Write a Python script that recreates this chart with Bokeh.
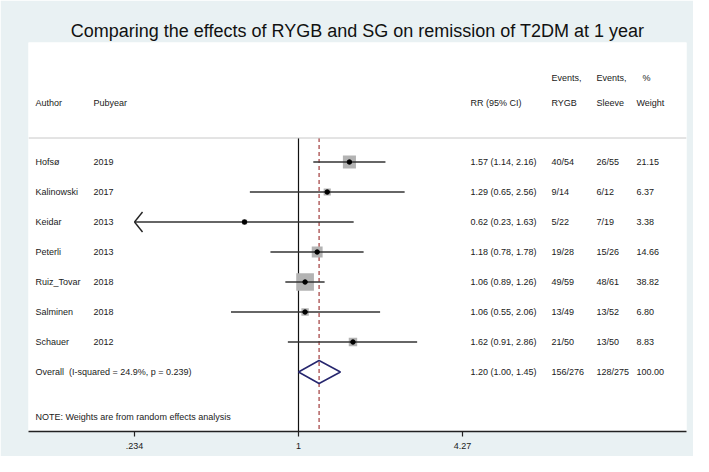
import numpy as np
from bokeh.plotting import figure
from bokeh.models import Range1d, FixedTicker, ColumnDataSource, Span
from bokeh.core.properties import value
from bokeh.embed import file_html
from bokeh.resources import INLINE

# ---------------- data ----------------
authors = ["Hofsø", "Kalinowski", "Keidar", "Peterli", "Ruiz_Tovar", "Salminen", "Schauer"]
pubyears = ["2019", "2017", "2013", "2013", "2018", "2018", "2012"]
rr = [1.57, 1.29, 0.62, 1.18, 1.06, 1.06, 1.62]
ci_low = [1.14, 0.65, 0.23, 0.78, 0.89, 0.55, 0.91]
ci_high = [2.16, 2.56, 1.63, 1.78, 1.26, 2.06, 2.86]
events_rygb = ["40/54", "9/14", "5/22", "19/28", "49/59", "13/49", "21/50"]
events_sleeve = ["26/55", "6/12", "7/19", "15/26", "48/61", "13/52", "13/50"]
weights = [21.15, 6.37, 3.38, 14.66, 38.82, 6.80, 8.83]

overall_rr = 1.20
overall_low = 1.00
overall_high = 1.45
overall_rygb = "156/276"
overall_sleeve = "128/275"
overall_weight = 100.00
i_squared = 24.9
p_het = 0.239

tick_values = [0.234, 1, 4.27]
tick_labels = [".234", "1", "4.27"]

title_text = "Comparing the effects of RYGB and SG on remission of T2DM at 1 year"
note_text = "NOTE: Weights are from random effects analysis"

# ---------------- layout helpers ----------------
FONT = "Liberation Sans"
BG = "#e9f1f3"
W, H = 693, 456
FRAME_L, FRAME_R, FRAME_T, FRAME_B = 28, 686, 42, 431
PX_PER_LN = 112.9          # pixels per natural-log unit
ONE_PX = 298.0             # x of RR = 1
ROW_PX = 30.0
ROW0_PX = 131.5            # y of row 0


def px2x(px):
    return float(np.exp((px - ONE_PX) / PX_PER_LN))


def py2r(py):
    return (py - ROW0_PX) / ROW_PX


x_start, x_end = px2x(FRAME_L), px2x(FRAME_R)
y_bottom, y_top = py2r(FRAME_B), py2r(FRAME_T)
axis_min = min(tick_values)

p = figure(width=W, height=H, output_backend="svg", toolbar_location=None,
           x_axis_type="log", x_range=Range1d(x_start, x_end),
           y_range=Range1d(y_bottom, y_top), y_axis_location=None,
           min_border_left=FRAME_L, min_border_right=W - FRAME_R,
           min_border_top=FRAME_T, min_border_bottom=H - FRAME_B)
p.border_fill_color = BG
p.background_fill_color = "white"
p.outline_line_color = None
p.grid.visible = False

# title
p.title.text = title_text
p.title.align = "center"
p.title.text_font = FONT
p.title.text_font_size = "18px"
p.title.text_font_style = "normal"
p.title.text_color = "#111111"
p.title.standoff = 4

# x axis
p.xaxis.ticker = FixedTicker(ticks=tick_values)
p.xaxis.major_label_overrides = {t: l for t, l in zip(tick_values, tick_labels)}
p.xaxis.minor_tick_line_color = None
p.xaxis.major_tick_in = 0
p.xaxis.major_tick_out = 5
p.xaxis.axis_line_width = 1.5
p.xaxis.axis_line_color = "#222222"
p.xaxis.major_tick_line_color = "#222222"
p.xaxis.major_tick_line_width = 1.2
p.xaxis.major_label_text_font = FONT
p.xaxis.major_label_text_font_size = "9px"
p.xaxis.major_label_text_color = "#1a1a1a"
p.xaxis.major_label_standoff = 6

n = len(authors)
rows = list(range(1, n + 1))
overall_row = n + 1
sep_row = py2r(137.5)

# header separator
p.add_layout(Span(location=sep_row, dimension="width", line_color="#c8c8c8", line_width=1))

# null line and overall line
p.segment(x0=[1], y0=[sep_row], x1=[1], y1=[y_bottom], line_color="#111111", line_width=1.2)
p.segment(x0=[overall_rr], y0=[sep_row], x1=[overall_rr], y1=[y_bottom],
          line_color="#a03a3a", line_width=1.2, line_dash="4 3")

# study boxes (area ~ weight)
box_sizes = [2.84 * np.sqrt(w) for w in weights]
src = ColumnDataSource(dict(rr=rr, row=rows, size=box_sizes,
                            lo=[max(l, axis_min) for l in ci_low], hi=ci_high))
p.scatter(x="rr", y="row", size="size", marker="square", source=src,
          fill_color="#b3b3b3", line_color=None)
p.segment(x0="lo", y0="row", x1="hi", y1="row", source=src,
          line_color="#333333", line_width=1.6)
p.scatter(x="rr", y="row", size=4.5, marker="circle", source=src,
          fill_color="black", line_color="black")

# arrow heads for clipped CIs
ax0, ay0, ax1, ay1 = [], [], [], []
for l, r in zip(ci_low, rows):
    if l < axis_min:
        tip = axis_min
        arm_x = tip * np.exp(8 / PX_PER_LN)
        for dy in (-10 / ROW_PX, 10 / ROW_PX):
            ax0.append(tip); ay0.append(r); ax1.append(arm_x); ay1.append(r + dy)
if ax0:
    p.segment(x0=ax0, y0=ay0, x1=ax1, y1=ay1, line_color="#222222", line_width=1.4)

# overall diamond
h = 11.5 / ROW_PX
p.patch(x=[overall_low, overall_rr, overall_high, overall_rr],
        y=[overall_row, overall_row - h, overall_row, overall_row + h],
        fill_color="white", fill_alpha=0, line_color="#26266e", line_width=1.5)

# ---------------- text columns ----------------
def ci_str(v, l, hh):
    return f"{v:.2f} ({l:.2f}, {hh:.2f})"


col_x = dict(author=px2x(35), year=px2x(93), ci=px2x(470), rygb=px2x(551),
             sleeve=px2x(596), weight=px2x(636), pct=px2x(642))

tx, ty, tt = [], [], []
hdr1, hdr2 = py2r(77), py2r(102.5)
for key, txt in [("rygb", "Events,"), ("sleeve", "Events,"), ("pct", "%")]:
    tx.append(col_x[key]); ty.append(hdr1); tt.append(txt)
for key, txt in [("author", "Author"), ("year", "Pubyear"), ("ci", "RR (95% CI)"),
                 ("rygb", "RYGB"), ("sleeve", "Sleeve"), ("weight", "Weight")]:
    tx.append(col_x[key]); ty.append(hdr2); tt.append(txt)

for i in range(n):
    r = rows[i]
    for key, txt in [("author", authors[i]), ("year", pubyears[i]),
                     ("ci", ci_str(rr[i], ci_low[i], ci_high[i])),
                     ("rygb", events_rygb[i]), ("sleeve", events_sleeve[i]),
                     ("weight", f"{weights[i]:.2f}")]:
        tx.append(col_x[key]); ty.append(r); tt.append(txt)

overall_label = f"Overall\u00a0 (I-squared = {i_squared:.1f}%, p = {p_het:.3f})"
for key, txt in [("author", overall_label),
                 ("ci", ci_str(overall_rr, overall_low, overall_high)),
                 ("rygb", overall_rygb), ("sleeve", overall_sleeve),
                 ("weight", f"{overall_weight:.2f}")]:
    tx.append(col_x[key]); ty.append(overall_row); tt.append(txt)

tx.append(col_x["author"]); ty.append(py2r(416.5)); tt.append(note_text)

p.text(x=tx, y=ty, text=tt, text_font=value(FONT), text_font_size="9px",
       text_baseline="middle", text_align="left", text_color="#1a1a1a")

open("out.html", "w").write(file_html(p, INLINE))
